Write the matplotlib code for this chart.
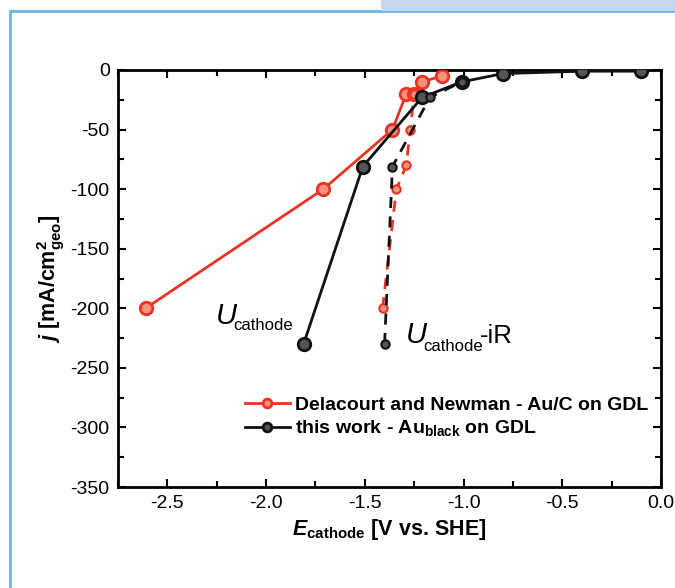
import matplotlib
matplotlib.use("Agg")
import matplotlib.pyplot as plt
from matplotlib.patches import Rectangle

plt.rcParams['font.family'] = ['Liberation Sans', 'DejaVu Sans']
plt.rcParams['mathtext.fontset'] = 'custom'
plt.rcParams['mathtext.rm'] = 'Liberation Sans'
plt.rcParams['mathtext.it'] = 'Liberation Sans:italic'
plt.rcParams['mathtext.bf'] = 'Liberation Sans:bold'
plt.rcParams['mathtext.bfit'] = 'Liberation Sans:bold:italic'

# Delacourt and Newman - Au/C on GDL
red_E = [-2.61, -1.71, -1.36, -1.29, -1.25, -1.21, -1.11]
red_j = [-200, -100, -50, -20, -20, -10, -5]
red_iR_E = [-1.41, -1.34, -1.29, -1.27, -1.25]
red_iR_j = [-200, -100, -80, -50, -20]

# this work - Au_black on GDL
blk_E = [-1.81, -1.51, -1.21, -1.01, -0.80, -0.40, -0.10]
blk_j = [-230, -81, -23, -10, -3, -1, -1]
blk_iR_E = [-1.40, -1.36, -1.17, -1.01]
blk_iR_j = [-230, -81, -23, -10]

red = '#ea3323'
red_face = '#f4917f'
black = '#111111'
black_face = '#555555'

fig = plt.figure(figsize=(6.75, 5.88), dpi=100)
ax = fig.add_axes([118 / 675, 1 - 487 / 588, 543 / 675, 417 / 588])

ax.plot(red_E, red_j, '-', color=red, lw=2, marker='o', ms=9, mfc=red_face, mec=red, mew=2, zorder=3,
        label='Delacourt and Newman - Au/C on GDL')
ax.plot(red_iR_E, red_iR_j, '--', color=red, lw=2, dashes=(4, 3), marker='o', ms=6, mfc=red_face, mec=red,
        mew=1.5, zorder=3)
ax.plot(blk_E, blk_j, '-', color=black, lw=2, marker='o', ms=9, mfc=black_face, mec=black, mew=2, zorder=4,
        label=r'this work - Au$_{\mathbf{black}}$ on GDL')
ax.plot(blk_iR_E, blk_iR_j, '--', color=black, lw=2, dashes=(4, 3), marker='o', ms=6, mfc=black_face, mec=black,
        mew=1.5, zorder=4)

ax.set_xlim(-2.75, 0.0)
ax.set_ylim(-350, 0)
ax.set_xticks([-2.5, -2.0, -1.5, -1.0, -0.5, 0.0])
ax.set_xticklabels(['-2.5', '-2.0', '-1.5', '-1.0', '-0.5', '0.0'])
ax.set_yticks([0, -50, -100, -150, -200, -250, -300, -350])
ax.set_yticklabels(['0', '-50', '-100', '-150', '-200', '-250', '-300', '-350'])
ax.set_xticks([-2.75, -2.25, -1.75, -1.25, -0.75, -0.25], minor=True)
ax.set_yticks([-25, -75, -125, -175, -225, -275, -325], minor=True)
ax.tick_params(which='both', direction='in', top=True, right=True, width=1.5, labelsize=14)
ax.tick_params(which='major', length=6, pad=6)
ax.tick_params(which='minor', length=4)
for s in ax.spines.values():
    s.set_linewidth(2)

ax.set_xlabel(r'$\mathbfit{E}_{\mathbf{cathode}}$ [V vs. SHE]', fontsize=15.5, fontweight='bold', labelpad=3)
ax.set_ylabel(r'$\mathbfit{j}$ [mA/cm$^{\mathbf{2}}_{\mathbf{geo}}$]', fontsize=15.5, fontweight='bold')
ax.yaxis.set_label_coords(-0.094, 0.5)

# annotations: large italic U with smaller subscript
ax.text(-2.255, -213.6, 'U', fontsize=21, style='italic', ha='left', va='baseline')
ax.text(-2.165, -218.5, 'cathode', fontsize=12, ha='left', va='baseline')
ax.text(-1.290, -229, 'U', fontsize=21, style='italic', ha='left', va='baseline')
ax.text(-1.203, -236, 'cathode', fontsize=12, ha='left', va='baseline')
ax.text(-0.915, -229, '-iR', fontsize=18.5, ha='left', va='baseline')

leg = ax.legend(loc='upper left', bbox_to_anchor=((245 - 118) / 543, 1 - (396 - 70) / 417), frameon=False,
                prop={'weight': 'bold', 'size': 14}, handlelength=2.3, handletextpad=0.25, labelspacing=0.25,
                markerscale=0.7, borderpad=0, borderaxespad=0)

fig.patches.append(Rectangle((10 / 675, -0.1), 1.2, 1 - 11 / 588 + 0.1, transform=fig.transFigure,
                             fill=False, edgecolor='#6cb4e4', lw=2, zorder=-1))
fig.patches.append(Rectangle((381 / 675, 1 - 11 / 588), 1.0, 0.1, transform=fig.transFigure,
                             facecolor='#c5d9ee', edgecolor='none', zorder=-1))

fig.savefig('out.png', dpi=100)
